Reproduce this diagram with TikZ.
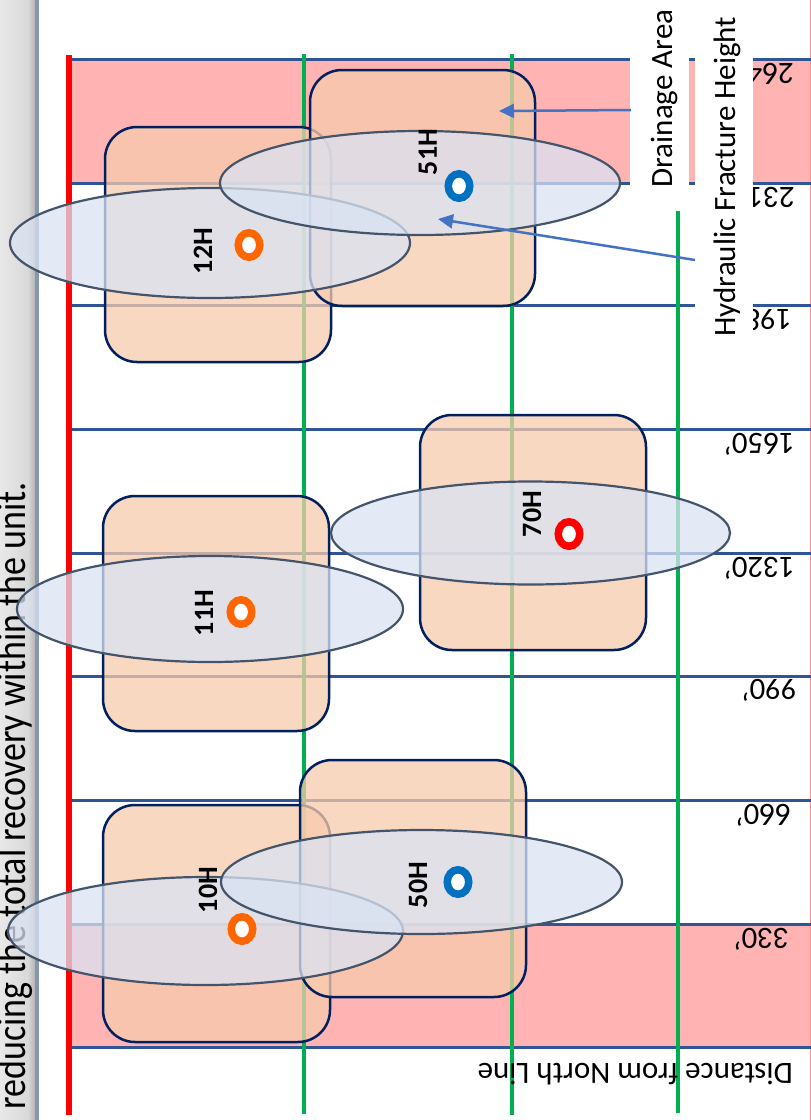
\documentclass[tikz,border=0pt]{standalone}
\usepackage{fontspec}
\setmainfont{Carlito}
\usetikzlibrary{arrows.meta,shapes.geometric}
\definecolor{pinkband}{HTML}{FFB3B3}
\definecolor{gridblue}{HTML}{2F5597}
\definecolor{greenl}{HTML}{00B050}
\definecolor{navyb}{HTML}{002060}
\definecolor{peach}{HTML}{F8CBAD}
\definecolor{fracfill}{HTML}{DAE3F3}
\definecolor{fracline}{HTML}{44546A}
\definecolor{wellorange}{HTML}{FF6600}
\definecolor{wellblue}{HTML}{0070C0}
\definecolor{wellred}{HTML}{FF0000}
\definecolor{arrowblue}{HTML}{4472C4}
\definecolor{stripedge}{HTML}{8496B0}
\begin{document}
\begin{tikzpicture}[x=1pt,y=-1pt,
  gridline/.style={draw=gridblue,line width=3pt},
  greenline/.style={draw=greenl,line width=4.5pt},
  drainbox/.style={draw=navyb,line width=2.5pt,fill=peach,fill opacity=0.75,draw opacity=1,rounded corners=32pt,inner sep=0pt},
  fracell/.style={ellipse,draw=fracline,line width=2.2pt,fill=fracfill,fill opacity=0.75,draw opacity=1,inner sep=0pt,minimum height=106pt},
  ring/.style={ellipse,draw=#1,line width=7.5pt,fill=white,minimum width=21.5pt,minimum height=24.5pt,inner sep=0pt},
  welllabel/.style={rotate=90,inner sep=0pt,font=\fontsize{28}{30}\selectfont\bfseries},
  distlabel/.style={rotate=180,anchor=base west,inner sep=0pt,font=\fontsize{31}{36}\selectfont},
  sidelabel/.style={rotate=90,anchor=base,inner sep=0pt,font=\fontsize{31}{36}\selectfont},
  pointer/.style={draw=arrowblue,line width=2.5pt,-{Triangle[length=15pt,width=14pt]}}]
\useasboundingbox (0,0) rectangle (811,1120);
\fill[white] (0,0) rectangle (811,1120);
% left strip
\shade[left color=gray!18,right color=gray!30] (0,0) rectangle (28,1120);
\shade[left color=gray!30,right color=gray!60] (28,0) rectangle (35,1120);
\fill[stripedge] (35,0) rectangle (39,1120);
\node[rotate=90,anchor=base west,inner sep=0pt,font=\fontsize{36}{40}\selectfont] (striptext) at (25,1110) {\scalebox{1}[1.15]{reducing the total recovery within the unit.}};
% pink bands
\fill[pinkband] (72,59) rectangle (811,183);
\fill[pinkband] (72,924) rectangle (811,1047);
\draw[draw=pinkband!80!red,line width=1pt] (810,0) -- (810,1120);
% grid lines
\foreach \yy in {59,183,305,429,553,676,800,924,1047} {\draw[gridline] (72,\yy) -- (811,\yy);}
\draw[draw=wellred,line width=6pt] (69,55) -- (69,1115);
\draw[greenline] (304,54) -- (304,1114);
\draw[greenline] (512,54) -- (512,1115);
\draw[greenline] (678,211) -- (678,1113);
% distance labels
\node[distlabel] (d2640) at (794,63) {2640’};
\node[distlabel] (d2310) at (795,187) {2310’};
\node[distlabel] (d1980) at (792,309) {1980’};
\node[distlabel] (d1650) at (795,433) {1650’};
\node[distlabel] (d1320) at (795,557) {1320’};
\node[distlabel] (d990) at (797,679) {990’};
\node[distlabel] (d660) at (791,804) {660’};
\node[distlabel] (d330) at (789,928) {330’};
\node[distlabel] (dtitle) at (793,1063) {Distance from North Line};
% drainage boxes
\node[drainbox,minimum width=226pt,minimum height=235pt] (b12) at (218,244.5) {};
\node[drainbox,minimum width=226pt,minimum height=235pt] (b11) at (216,613.5) {};
\node[drainbox,minimum width=227pt,minimum height=237pt] (b10) at (216.5,923.5) {};
\node[drainbox,minimum width=225pt,minimum height=236pt] (b51) at (422.5,188) {};
\node[drainbox,minimum width=226pt,minimum height=235pt] (b70) at (533,532.5) {};
\node[drainbox,minimum width=226pt,minimum height=237pt] (b50) at (413,878.5) {};
% fracture ellipses
\node[fracell,minimum width=400pt,minimum height=110pt] (e12) at (210,243) {};
\node[fracell,minimum width=386pt] (e11) at (210,609) {};
\node[fracell,minimum width=395pt,minimum height=108pt] (e10) at (205.5,931) {};
\node[fracell,minimum width=400pt,minimum height=104pt] (e51) at (420,183) {};
\node[fracell,minimum width=399pt,minimum height=103pt] (e70) at (530.5,533) {};
\node[fracell,minimum width=401pt,minimum height=104pt] (e50) at (421.5,882) {};
% wells
\node[ring=wellorange] (w12) at (249,245) {};
\node[ring=wellblue] (w51) at (459,186) {};
\node[ring=wellorange] (w11) at (241,612) {};
\node[ring=wellred] (w70) at (569,534) {};
\node[ring=wellorange] (w10) at (242,929) {};
\node[ring=wellblue] (w50) at (458,882) {};
\node[welllabel] (l12) at (203,251) {12H};
\node[welllabel] (l51) at (428,152) {51H};
\node[welllabel] (l11) at (204,613) {11H};
\node[welllabel] (l70) at (532,514) {70H};
\node[welllabel] (l10) at (208,890) {10H};
\node[welllabel] (l50) at (418,885) {50H};
% legend text boxes
\node[fill=white,minimum width=59pt,minimum height=192pt,inner sep=0pt] (dabg) at (659.5,96) {};
\node[fill=white,minimum width=58pt,minimum height=345pt,inner sep=0pt] (hfbg) at (724,172.5) {};
\node[sidelabel] (datext) at (672,98.5) {Drainage Area};
\node[sidelabel] (hftext) at (735,176.5) {Hydraulic Fracture Height};
\coordinate (a1s) at (631,110);
\coordinate (a1e) at (499,111);
\coordinate (a2s) at (695,260);
\coordinate (a2e) at (438,219);
\draw[pointer] (a1s) -- (a1e);
\draw[pointer] (a2s) -- (a2e);
\end{tikzpicture}
\end{document}
